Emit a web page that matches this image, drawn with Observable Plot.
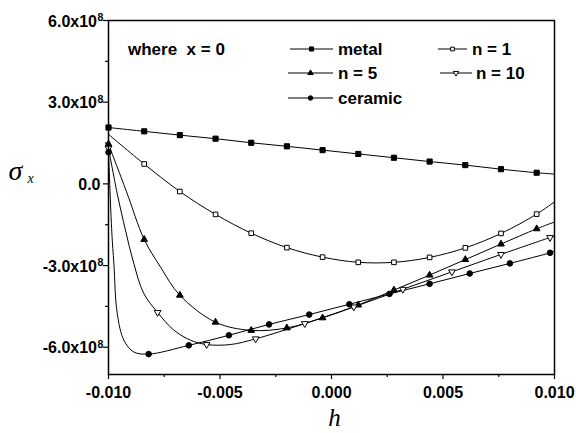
<!DOCTYPE html>
<html><head><meta charset="utf-8">
<script src="https://cdn.jsdelivr.net/npm/d3@7"></script>
<script src="https://cdn.jsdelivr.net/npm/@observablehq/plot@0.6"></script>
<style>body{margin:0;background:#fff}</style>
</head><body><div id="chart"></div>
<script>
// ---- data (sigma_x in units of 1e8) ----
const E8 = 1e8;
const xTicks = [-0.01, -0.005, 0, 0.005, 0.01];
const xMinor = [-0.0075, -0.0025, 0.0025, 0.0075];
const yTicks = [-6, -3, 0, 3, 6];
const yMinor = [-4.5, -1.5, 1.5, 4.5];
const yTickText = ["-6.0x10", "-3.0x10", "0.0", "3.0x10", "6.0x10"];

// markers
const metalH = [-0.01, -0.0084, -0.0068, -0.0052, -0.0036, -0.002, -0.0004, 0.0012, 0.0028, 0.0044, 0.006, 0.0076, 0.0092];
const metalS = [2.07, 1.93, 1.79, 1.66, 1.51, 1.38, 1.24, 1.10, 0.96, 0.82, 0.69, 0.54, 0.41];
const n1H = [-0.0084, -0.0068, -0.0052, -0.0036, -0.002, -0.0004, 0.0012, 0.0028, 0.0044, 0.006, 0.0076, 0.0092];
const n1S = [0.73, -0.28, -1.12, -1.81, -2.34, -2.69, -2.88, -2.88, -2.70, -2.35, -1.82, -1.11];
const n5H = [-0.01, -0.0084, -0.0068, -0.0052, -0.0036, -0.002, -0.0004, 0.0012, 0.0028, 0.0044, 0.006, 0.0076, 0.0092];
const n5S = [1.46, -2.04, -4.09, -5.08, -5.38, -5.29, -4.92, -4.45, -3.90, -3.35, -2.78, -2.21, -1.65];
const n10H = [-0.01, -0.0078, -0.0056, -0.0034, -0.0012, 0.001, 0.0032, 0.0054, 0.0076, 0.0098];
const n10S = [1.31, -4.72, -5.90, -5.69, -5.13, -4.52, -3.87, -3.23, -2.59, -1.97];
const ceramicH = [-0.01, -0.0082, -0.0064, -0.0046, -0.0028, -0.001, 0.0008, 0.0026, 0.0044, 0.0062, 0.008, 0.0098];
const ceramicS = [1.16, -6.25, -5.93, -5.56, -5.16, -4.80, -4.42, -4.04, -3.67, -3.29, -2.92, -2.53];

// unmarked points along the curves
const metalCurveH = [0.01], metalCurveS = [0.36];
const n1CurveH = [-0.01, 0.01], n1CurveS = [1.82, -0.66];
const n5CurveH = [-0.0092, -0.00767, 0.01], n5CurveS = [-0.27, -3.05, -1.40];
const n10CurveH = [-0.00961, -0.00924, -0.00887, -0.00842, -0.00707, -0.00632, -0.00453, 0.01];
const n10CurveS = [-0.35, -1.70, -2.91, -4.02, -5.37, -5.74, -5.90, -1.92];
const ceramicCurveH = [-0.00985, -0.00976, -0.00961, -0.00931, -0.00887, 0.01];
const ceramicCurveS = [-1.80, -2.91, -4.75, -5.74, -6.17, -2.47];

const downTriangle = {
  draw(context, size) {
    const s3 = Math.sqrt(3);
    const y = -Math.sqrt(size / (s3 * 3));
    context.moveTo(0, -y * 2);
    context.lineTo(-s3 * y, y);
    context.lineTo(s3 * y, y);
    context.closePath();
  }
};

const seriesDefs = [
  {name: "metal", H: metalH, S: metalS, cH: metalCurveH, cS: metalCurveS, symbol: "square", fill: "black", r: 2.9},
  {name: "n = 1", H: n1H, S: n1S, cH: n1CurveH, cS: n1CurveS, symbol: "square", fill: "white", r: 2.6},
  {name: "n = 5", H: n5H, S: n5S, cH: n5CurveH, cS: n5CurveS, symbol: "triangle", fill: "black", r: 2.5},
  {name: "n = 10", H: n10H, S: n10S, cH: n10CurveH, cS: n10CurveS, symbol: downTriangle, fill: "white", r: 2.5},
  {name: "ceramic", H: ceramicH, S: ceramicS, cH: ceramicCurveH, cS: ceramicCurveS, symbol: "circle", fill: "black", r: 2.8}
];

const marks = [];
for (const d of seriesDefs) {
  const pts = d.H.map((h, i) => ({h, s: d.S[i] * E8}))
    .concat(d.cH.map((h, i) => ({h, s: d.cS[i] * E8})))
    .sort((a, b) => a.h - b.h);
  marks.push(Plot.line(pts, {x: "h", y: "s", curve: "catmull-rom", stroke: "black", strokeWidth: 1}));
}
for (const d of seriesDefs) {
  const mk = d.H.map((h, i) => ({h, s: d.S[i] * E8}));
  marks.push(Plot.dot(mk, {x: "h", y: "s", symbol: d.symbol, fill: d.fill, stroke: "black", strokeWidth: 1, r: d.r}));
}

const yMajor = yTicks.map((v, i) => ({v: v * E8, t: yTickText[i]}));

const plot = Plot.plot({
  width: 576, height: 433,
  marginLeft: 108, marginRight: 22, marginTop: 20, marginBottom: 59,
  x: {domain: [-0.01, 0.01]},
  y: {domain: [-7 * E8, 6 * E8]},
  style: {fontFamily: "'Liberation Sans', Arial, sans-serif", background: "white", color: "black"},
  marks: [
    ...marks,
    Plot.frame({stroke: "black", strokeWidth: 1.5}),
    Plot.axisX(xTicks, {tickSize: 5, tickPadding: 7, tickFormat: d => d.toFixed(3), fontSize: 16, fontWeight: "bold", label: null, strokeWidth: 1.2}),
    Plot.axisX(xMinor, {tickSize: 3, tickFormat: () => "", label: null, strokeWidth: 1.2}),
    Plot.axisY(yTicks.map(v => v * E8), {tickSize: 5, tickFormat: () => "", label: null, strokeWidth: 1.2}),
    Plot.axisY(yMinor.map(v => v * E8), {tickSize: 3, tickFormat: () => "", label: null, strokeWidth: 1.2}),
    // y tick labels with superscript exponent
    Plot.text(yMajor.filter(d => d.v !== 0), {y: "v", text: "t", frameAnchor: "left", dx: -11.5, dy: 1, textAnchor: "end", lineAnchor: "middle", fontSize: 16, fontWeight: "bold"}),
    Plot.text(yMajor.filter(d => d.v !== 0), {y: "v", text: () => "8", frameAnchor: "left", dx: -11, dy: -3, textAnchor: "start", lineAnchor: "middle", fontSize: 10.5, fontWeight: "bold"}),
    Plot.text(yMajor.filter(d => d.v === 0), {y: "v", text: "t", frameAnchor: "left", dx: -8, dy: 1, textAnchor: "end", lineAnchor: "middle", fontSize: 16, fontWeight: "bold"}),
    // axis titles
    Plot.text(["h"], {text: d => d, frameAnchor: "bottom", dx: 3, dy: 43, lineAnchor: "middle", fontFamily: "'Liberation Serif', 'Times New Roman', serif", fontStyle: "italic", fontSize: 25}),
    Plot.text(["σ"], {text: d => d, frameAnchor: "left", dx: -100, dy: -26, textAnchor: "start", lineAnchor: "middle", fontFamily: "'Liberation Serif', 'Times New Roman', serif", fontStyle: "italic", fontSize: 28}),
    Plot.text(["x"], {text: d => d, frameAnchor: "left", dx: -81, dy: -18.5, textAnchor: "start", lineAnchor: "middle", fontFamily: "'Liberation Serif', 'Times New Roman', serif", fontStyle: "italic", fontSize: 14})
  ]
});

// legend inside the frame
const svg = d3.select(plot);
const lg = svg.append("g")
  .attr("font-family", "'Liberation Sans', Arial, sans-serif")
  .attr("font-weight", "bold").attr("font-size", 17)
  .attr("text-anchor", "start").attr("fill", "black");
lg.append("text").attr("x", 128).attr("y", 49).attr("dy", "0.35em").attr("xml:space", "preserve").style("white-space", "pre").text("where  x = 0");
const legendPos = [
  {x0: 290, x1: 333, tx: 338, y: 49},
  {x0: 438, x1: 467, tx: 472, y: 49},
  {x0: 288, x1: 333, tx: 338, y: 73},
  {x0: 440, x1: 472, tx: 476, y: 73},
  {x0: 288, x1: 333, tx: 338, y: 98}
];
const symMap = {square: d3.symbolSquare, triangle: d3.symbolTriangle, circle: d3.symbolCircle};
seriesDefs.forEach((d, i) => {
  const p = legendPos[i];
  lg.append("line").attr("x1", p.x0).attr("x2", p.x1).attr("y1", p.y).attr("y2", p.y).attr("stroke", "black").attr("stroke-width", 1);
  const symType = typeof d.symbol === "string" ? symMap[d.symbol] : d.symbol;
  const rr = d.r * 0.8;
  lg.append("path").attr("d", d3.symbol(symType, rr * rr * Math.PI)())
    .attr("transform", `translate(${(p.x0 + p.x1) / 2},${p.y})`)
    .attr("fill", d.fill).attr("stroke", "black").attr("stroke-width", 1);
  lg.append("text").attr("x", p.tx).attr("y", p.y).attr("dy", "0.35em").text(d.name);
});

document.getElementById("chart").appendChild(plot);
</script>
</body></html>
